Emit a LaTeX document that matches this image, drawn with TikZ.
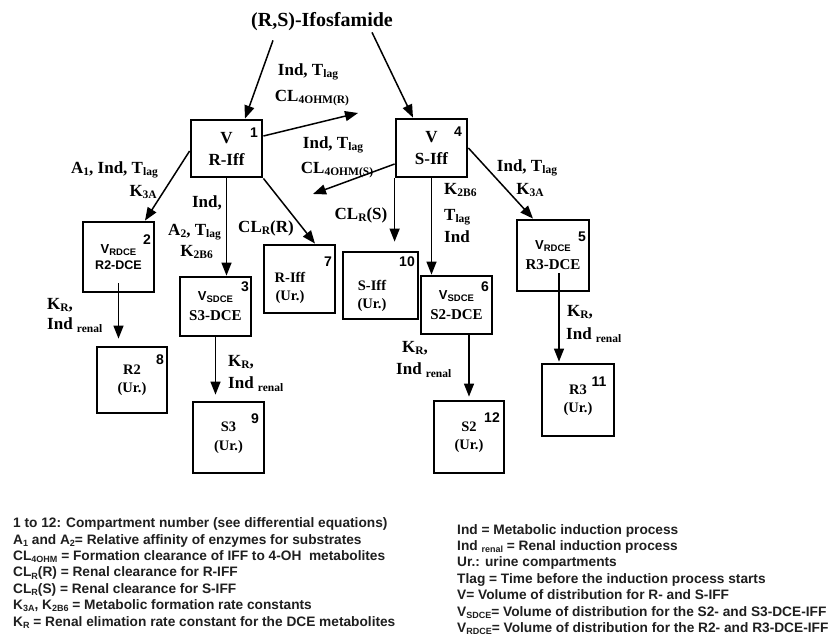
\documentclass[tikz,border=0pt]{standalone}
\usepackage{fontspec}
\setmainfont{Liberation Serif}
\setsansfont{Liberation Sans}
\usetikzlibrary{arrows.meta,calc}
\newcommand\lo[1]{\raisebox{-0.3ex}{\fontsize{11.5}{11.5}\selectfont #1}}
\newcommand\slo[1]{\raisebox{-0.3ex}{\sffamily\bfseries\fontsize{9.5}{9.5}\selectfont #1}}
\newcommand\llo[1]{\raisebox{-0.3ex}{\fontsize{9}{9}\selectfont #1}}
\newcommand\sv{{\sffamily\bfseries\fontsize{13}{13}\selectfont V}}
\begin{document}
\begin{tikzpicture}[x=1pt,y=-1pt,
  box/.style={draw,line width=2.8pt,inner sep=0pt,align=center},
  iffbox/.style={box,minimum width=71pt,minimum height=57pt,font=\bfseries\fontsize{17}{22}\selectfont},
  dcebox/.style={box,font=\bfseries\fontsize{15}{20}\selectfont},
  urbox/.style={box,font=\bfseries\fontsize{14.5}{18.5}\selectfont},
  urtext/.style={inner sep=0pt,align=center,font=\bfseries\fontsize{14.5}{18.5}\selectfont},
  lab/.style={inner sep=0pt,font=\bfseries\fontsize{17}{20}\selectfont},
  num/.style={inner sep=0pt,font=\sffamily\bfseries\fontsize{14}{14}\selectfont},
  arr/.style={line width=1.5pt,-{Triangle[length=13pt,width=10pt]}},
  legend/.style={inner sep=0pt,anchor=north west,align=left,text=black!88,font=\sffamily\bfseries\fontsize{13.7}{16.4}\selectfont}]
\useasboundingbox (0,0) rectangle (830,642);
\fill[white] (0,0) rectangle (830,642);

\node[inner sep=0pt,font=\bfseries\fontsize{20}{20}\selectfont] (title) at (322,22) {(R,S)-Ifosfamide};

% boxes
\node[iffbox] (b1) at (226.5,148.5) {V\\R-Iff};
\node[iffbox,minimum height=58pt] (b4) at (431.5,148) {V\\S-Iff};
\node[dcebox,minimum width=71pt,minimum height=70pt,font=\sffamily\bfseries\fontsize{12.5}{16}\selectfont] (b2) at (118.5,257) {\sv\slo{RDCE}\\R2-DCE};
\node[dcebox,minimum width=71pt,minimum height=59pt] (b3) at (215.5,306.5) {\sv\slo{SDCE}\\S3-DCE};
\node[dcebox,minimum width=71pt,minimum height=58pt] (b6) at (456.5,305) {\sv\slo{SDCE}\\S2-DCE};
\node[dcebox,minimum width=72pt,minimum height=71pt] (b5) at (553,255.5) {\sv\slo{RDCE}\\R3-DCE};
\node[box,minimum width=71pt,minimum height=68pt] (b7) at (299.5,279) {};
\node[urtext] (t7) at (290,288) {R-Iff\\(Ur.)};
\node[box,minimum width=75pt,minimum height=67pt] (b10) at (380.5,285.5) {};
\node[urtext] (t10) at (372,296) {S-Iff\\(Ur.)};
\node[urbox,minimum width=70pt,minimum height=66pt] (b8) at (132,380) {R2\\(Ur.)};
\node[urbox,minimum width=71pt,minimum height=71pt] (b9) at (228.5,437.5) {S3\\(Ur.)};
\node[urbox,minimum width=70pt,minimum height=72pt] (b12) at (469,437) {S2\\(Ur.)};
\node[urbox,minimum width=72pt,minimum height=72pt] (b11) at (578,400) {R3\\(Ur.)};

% compartment numbers
\node[num] (n1) at (254,133) {1};
\node[num] (n4) at (458,132) {4};
\node[num] (n2) at (147,240) {2};
\node[num] (n3) at (245,287) {3};
\node[num] (n7) at (328,262) {7};
\node[num] (n10) at (407,262) {10};
\node[num] (n6) at (485,287) {6};
\node[num] (n5) at (582,237) {5};
\node[num] (n8) at (160,360) {8};
\node[num] (n9) at (255,419) {9};
\node[num] (n12) at (492,418) {12};
\node[num] (n11) at (599,382) {11};

% connectors
\coordinate (cR) at (358,113);
\coordinate (cS) at (313,194);
\draw[arr] ($(title.south)+(-49,9)$) -- ($(b1.north)+(18.5,0)$);
\draw[arr] ($(title.south)+(50,1)$) -- ($(b4.north)+(-18.5,0)$);
\draw[arr] ($(b1.east)+(0,-12.5)$) -- (cR);
\draw[arr] ($(b4.west)+(0,16)$) -- (cS);
\draw[arr] ($(b1.west)+(0,2.5)$) -- ($(b2.north)+(26.5,0)$);
\draw[arr] (b1.south) -- (b1.south |- b3.north);
\draw[arr] (b1.south east) -- ($(b7.north)+(15.5,0)$);
\draw[arr] (b4.south west) -- ($(b4.south west |- b10.north)+(0,-9)$);
\draw[arr] (b4.south) -- (b4.south |- b6.north);
\draw[arr] (b4.east) -- ($(b5.north)+(-20,0)$);
\draw[arr] ($(b2.south)+(0,-10)$) -- ($(b2.south |- b8.north)+(0,-7)$);
\draw[arr] (b3.south) -- ($(b3.south |- b9.north)+(0,-6)$);
\draw[arr] ($(b6.south -| b12.north)+(0,-2)$) -- ($(b12.north)+(0,-3)$);
\draw[arr] ($(b5.south)+(6,-19)$) -- ($(b5.south |- b11.north)+(6,-1)$);

% connector labels
\node[lab] (l1) at (308,72) {Ind, T\lo{lag}};
\node[lab] (l2) at (312,98) {CL\lo{4OHM(R)}};
\node[lab] (l3) at (333,145) {Ind, T\lo{lag}};
\node[lab] (l4) at (337,170) {CL\lo{4OHM(S)}};
\node[lab,anchor=east] (l5) at (158,170) {A\lo{1}, Ind, T\lo{lag}};
\node[lab,anchor=east] (l6) at (157,192) {K\lo{3A}};
\node[lab,anchor=east] (l7) at (222,203) {Ind,};
\node[lab,anchor=east] (l8) at (221,232) {A\lo{2}, T\lo{lag}};
\node[lab,anchor=east] (l9) at (213,252) {K\lo{2B6}};
\node[lab] (l10) at (266,228) {CL\lo{R}(R)};
\node[lab] (l11) at (361,215) {CL\lo{R}(S)};
\node[lab,anchor=west] (l12) at (444,190) {K\lo{2B6}};
\node[lab,anchor=west] (l13) at (444,217) {T\lo{lag}};
\node[lab,anchor=west] (l14) at (444,237) {Ind};
\node[lab] (l15) at (527,168) {Ind, T\lo{lag}};
\node[lab] (l16) at (530,190) {K\lo{3A}};
\node[lab,anchor=west] (l17) at (47,305) {K\lo{R},};
\node[lab,anchor=west] (l18) at (47,325) {Ind \lo{renal}};
\node[lab,anchor=west] (l19) at (228,362) {K\lo{R},};
\node[lab,anchor=west] (l20) at (228,384) {Ind \lo{renal}};
\node[lab,anchor=west] (l21) at (402,348) {K\lo{R},};
\node[lab,anchor=west] (l22) at (396,370) {Ind \lo{renal}};
\node[lab,anchor=west] (l23) at (567,312) {K\lo{R},};
\node[lab,anchor=west] (l24) at (566,335) {Ind \lo{renal}};

% legend
\node[legend] (legL) at (13,517.5) {1 to 12: Compartment number (see differential equations)\\
A\llo{1} and A\llo{2}= Relative affinity of enzymes for substrates\\
CL\llo{4OHM} = Formation clearance of IFF to 4-OH\ \ metabolites\\
CL\llo{R}(R) = Renal clearance for R-IFF\\
CL\llo{R}(S) = Renal clearance for S-IFF\\
K\llo{3A}, K\llo{2B6} = Metabolic formation rate constants\\
K\llo{R} = Renal elimation rate constant for the DCE metabolites};
\node[legend] (legR) at (457,524) {Ind = Metabolic induction process\\
Ind \llo{renal} = Renal induction process\\
Ur.: urine compartments\\
Tlag = Time before the induction process starts\\
V= Volume of distribution for R- and S-IFF\\
V\llo{SDCE}= Volume of distribution for the S2- and S3-DCE-IFF\\
V\llo{RDCE}= Volume of distribution for the R2- and R3-DCE-IFF};
\end{tikzpicture}
\end{document}
